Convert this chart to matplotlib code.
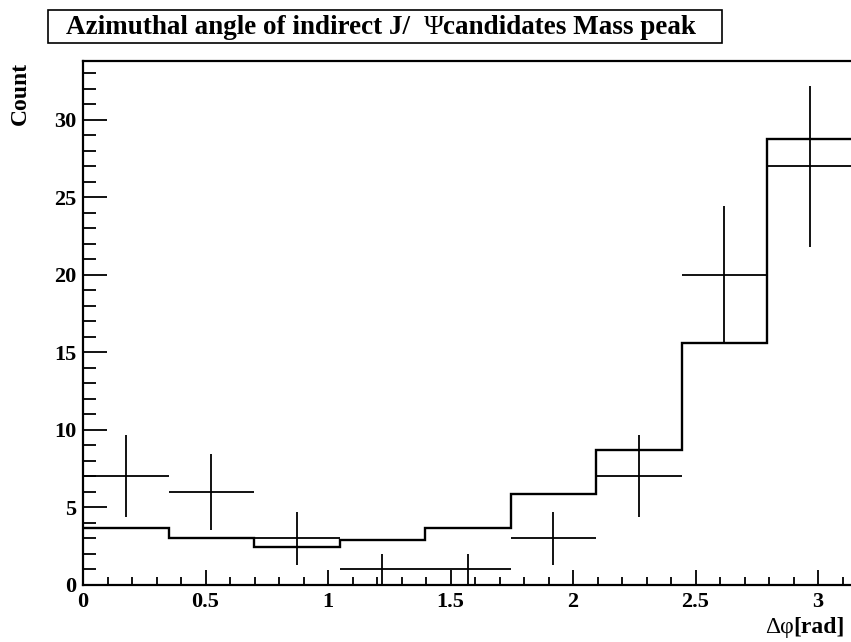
import numpy as np
import matplotlib
matplotlib.use("Agg")
import matplotlib.pyplot as plt
from matplotlib.patches import Rectangle
from matplotlib.ticker import MultipleLocator

# Data
bin_edges = np.linspace(0, np.pi, 10)
data_counts = [7, 6, 3, 1, 1, 3, 7, 20, 27]
mc_counts = [3.70, 3.01, 2.47, 2.90, 3.70, 5.87, 8.73, 15.6, 28.75]
title_left = "Azimuthal angle of indirect J/  "
title_psi = "\u03a8"
title_right = "candidates Mass peak"
xlabel_greek = "\u0394\u03c6"
xlabel_unit = "[rad]"
ylabel = "Count"
xtick_vals = [0, 0.5, 1, 1.5, 2, 2.5, 3]
xtick_labels = ["0", "0.5", "1", "1.5", "2", "2.5", "3"]
ytick_vals = [0, 5, 10, 15, 20, 25, 30]
ytick_labels = ["0", "5", "10", "15", "20", "25", "30"]

W, H = 851, 642
fig = plt.figure(figsize=(W / 100, H / 100), dpi=100)
ax = fig.add_axes([83 / W, (H - 585) / H, (852.7 - 83) / W, (585 - 61) / H])

serif = ["Liberation Serif", "DejaVu Serif"]

edges = np.array(bin_edges)
centers = 0.5 * (edges[:-1] + edges[1:])
halfw = 0.5 * np.diff(edges)
data = np.array(data_counts, dtype=float)

ax.stairs(mc_counts, edges, baseline=None, color="black", lw=1.7)
ax.errorbar(centers, data, xerr=halfw, yerr=np.sqrt(data), fmt="none",
            ecolor="black", elinewidth=1.3, capsize=0)

ax.set_xlim(0, np.pi)
ax.set_ylim(0, 33.8)

for s in ["left", "bottom", "top"]:
    ax.spines[s].set_linewidth(1.6)
ax.spines["right"].set_visible(False)

ax.xaxis.set_minor_locator(MultipleLocator(0.1))
ax.yaxis.set_minor_locator(MultipleLocator(1))
ax.tick_params(axis="x", which="major", direction="in", length=11, width=1.3, pad=5)
ax.tick_params(axis="x", which="minor", direction="in", length=6, width=1.3)
ax.tick_params(axis="y", which="major", direction="in", length=17, width=1.3, pad=5)
ax.tick_params(axis="y", which="minor", direction="in", length=9, width=1.3)
ax.tick_params(top=False, right=False, which="both")

ax.set_xticks(xtick_vals)
ax.set_xticklabels(xtick_labels)
ax.set_yticks(ytick_vals)
ax.set_yticklabels(ytick_labels)
for lab in ax.get_xticklabels() + ax.get_yticklabels():
    lab.set_fontfamily(serif)
    lab.set_fontweight("bold")
    lab.set_fontsize(16)

# axis labels
fig.canvas.draw()
renderer = fig.canvas.get_renderer()
t_unit = fig.text(845 / W, 1 - 627 / H, xlabel_unit, ha="right", va="center",
                  fontsize=17, fontweight="bold", family=serif)
bb = t_unit.get_window_extent(renderer)
fig.text(bb.x0 / W, 1 - 627 / H, xlabel_greek, ha="right", va="center",
         fontsize=17, fontweight="normal", family=serif)
fig.text(20 / W, 1 - 62 / H, ylabel, ha="center", va="top", rotation=90,
         fontsize=17, fontweight="bold", family=serif)

# title box
fig.patches.append(Rectangle((48 / W, 1 - 43 / H), (722 - 48) / W, 33 / H,
                             transform=fig.transFigure, facecolor="white",
                             edgecolor="black", lw=1.2))
ty = 1 - 27 / H
tl = fig.text(66 / W, ty, title_left, ha="left", va="center",
              fontsize=19.5, fontweight="bold", family=serif)
bl = tl.get_window_extent(renderer)
tp = fig.text(bl.x1 / W, ty, title_psi, ha="left", va="center",
              fontsize=19.5, fontweight="normal", family=serif)
bp = tp.get_window_extent(renderer)
fig.text(bp.x1 / W, ty, title_right, ha="left", va="center",
         fontsize=19.5, fontweight="bold", family=serif)

fig.savefig("out.png", dpi=100)
